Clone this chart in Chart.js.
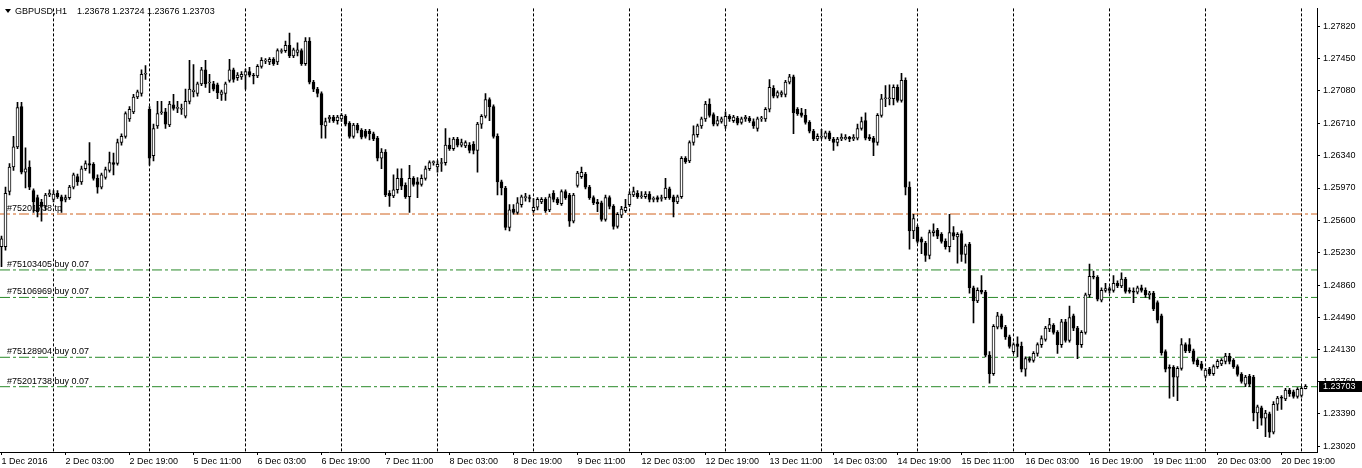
<!DOCTYPE html>
<html>
<head>
<meta charset="utf-8">
<title>GBPUSD,H1</title>
<script src="https://cdn.jsdelivr.net/npm/chart.js@4.4.0/dist/chart.umd.min.js"></script>
<style>
  html, body { margin: 0; padding: 0; background: #fff; }
  #chart { display: block; }
</style>
</head>
<body>
<canvas id="chart" width="1362" height="468"></canvas>
<script>
// GBPUSD H1 bars, 1 Dec 2016 11:00 .. 21 Dec 2016 01:00, one line per trading day
const opens = [
  1.2530,1.2530,1.2593,1.2621,1.2644,1.2690,1.2615,1.2621,1.2594,1.2586,1.2581,1.2576,1.2589,
  1.2584,1.2591,1.2587,1.2584,1.2586,1.2598,1.2610,1.2604,1.2619,1.2625,1.2624,1.2608,1.2598,1.2609,1.2617,1.2626,1.2625,1.2649,1.2656,1.2676,1.2684,1.2701,1.2705,1.2727,
  1.2687,1.2634,1.2668,1.2683,1.2684,1.2669,1.2692,1.2688,1.2687,1.2679,1.2696,1.2707,1.2705,1.2716,1.2732,1.2717,1.2716,1.2715,1.2704,1.2705,1.2720,1.2732,1.2723,1.2724,
  1.2726,1.2730,1.2726,1.2725,1.2736,1.2742,1.2741,1.2744,1.2741,1.2753,1.2754,1.2760,1.2748,1.2752,1.2754,1.2739,1.2765,1.2718,1.2710,1.2705,1.2668,1.2676,1.2678,1.2674,
  1.2676,1.2679,1.2671,1.2656,1.2669,1.2663,1.2662,1.2662,1.2659,1.2654,1.2631,1.2638,1.2591,1.2588,1.2595,1.2608,1.2600,1.2587,1.2608,1.2604,1.2601,1.2608,1.2619,1.2626,
  1.2621,1.2625,1.2626,1.2646,1.2642,1.2653,1.2646,1.2645,1.2646,1.2647,1.2640,1.2670,1.2679,1.2698,1.2690,1.2656,1.2604,1.2597,1.2552,1.2573,1.2569,1.2578,1.2586,1.2586,
  1.2571,1.2575,1.2581,1.2584,1.2572,1.2591,1.2584,1.2579,1.2593,1.2589,1.2559,1.2600,1.2610,1.2613,1.2598,1.2586,1.2581,1.2580,1.2561,1.2586,1.2576,1.2553,1.2566,1.2571,
  1.2578,1.2589,1.2591,1.2587,1.2587,1.2590,1.2584,1.2586,1.2585,1.2586,1.2596,1.2587,1.2581,1.2587,1.2631,1.2628,1.2649,1.2658,1.2668,1.2676,1.2693,1.2681,1.2670,1.2673,
  1.2668,1.2679,1.2674,1.2677,1.2672,1.2676,1.2677,1.2673,1.2665,1.2676,1.2676,1.2687,1.2711,1.2702,1.2704,1.2704,1.2718,1.2724,1.2687,1.2683,1.2680,1.2672,1.2662,1.2653,
  1.2655,1.2655,1.2660,1.2653,1.2649,1.2653,1.2653,1.2655,1.2653,1.2654,1.2665,1.2674,1.2655,1.2654,1.2649,1.2680,1.2699,1.2699,1.2699,1.2712,1.2697,1.2720,1.2598,1.2548,
  1.2552,1.2539,1.2534,1.2520,1.2546,1.2549,1.2544,1.2536,1.2530,1.2546,1.2541,1.2545,1.2521,1.2533,1.2483,1.2468,1.2480,1.2478,1.2406,1.2385,1.2438,1.2451,1.2438,1.2427,
  1.2410,1.2419,1.2416,1.2390,1.2402,1.2400,1.2408,1.2418,1.2424,1.2436,1.2440,1.2432,1.2418,1.2444,1.2423,1.2451,1.2437,1.2418,1.2432,1.2475,1.2496,1.2495,1.2469,1.2480,
  1.2482,1.2480,1.2488,1.2485,1.2493,1.2480,1.2479,1.2478,1.2483,1.2480,1.2475,1.2477,1.2466,1.2451,1.2410,1.2392,1.2392,1.2381,1.2391,1.2418,1.2418,1.2411,1.2400,1.2396,
  1.2382,1.2390,1.2385,1.2393,1.2396,1.2399,1.2405,1.2400,1.2393,1.2384,1.2373,1.2382,1.2381,1.2340,1.2346,1.2334,1.2339,1.2318,1.2350,1.2358,1.2356,1.2366,1.2364,1.2359,
  1.2360,1.23678
];
const highs = [
  1.2542,1.2598,1.2625,1.2656,1.2695,1.2695,1.2643,1.2628,1.2596,1.2589,1.2584,1.2591,1.2595,
  1.2594,1.2594,1.2589,1.2589,1.2600,1.2614,1.2613,1.2622,1.2628,1.2649,1.2626,1.2612,1.2614,1.2621,1.2638,1.2637,1.2653,1.2659,1.2684,1.2690,1.2704,1.2709,1.2732,1.2737,
  1.2690,1.2670,1.2696,1.2696,1.2688,1.2696,1.2704,1.2696,1.2693,1.2710,1.2743,1.2738,1.2718,1.2735,1.2743,1.2727,1.2719,1.2717,1.2709,1.2718,1.2744,1.2734,1.2729,1.2730,
  1.2733,1.2735,1.2728,1.2738,1.2746,1.2745,1.2746,1.2746,1.2756,1.2756,1.2765,1.2774,1.2757,1.2763,1.2756,1.2769,1.2769,1.2720,1.2712,1.2707,1.2677,1.2680,1.2680,1.2680,
  1.2682,1.2681,1.2673,1.2671,1.2671,1.2665,1.2664,1.2664,1.2661,1.2656,1.2642,1.2641,1.2594,1.2612,1.2619,1.2619,1.2603,1.2623,1.2610,1.2609,1.2612,1.2622,1.2628,1.2628,
  1.2628,1.2631,1.2665,1.2654,1.2655,1.2655,1.2653,1.2651,1.2649,1.2650,1.2672,1.2681,1.2705,1.2700,1.2692,1.2659,1.2606,1.2599,1.2578,1.2578,1.2586,1.2589,1.2591,1.2589,
  1.2585,1.2586,1.2586,1.2586,1.2590,1.2594,1.2586,1.2595,1.2595,1.2591,1.2591,1.2616,1.2621,1.2615,1.2600,1.2588,1.2584,1.2582,1.2589,1.2588,1.2578,1.2569,1.2576,1.2584,
  1.2593,1.2598,1.2594,1.2593,1.2593,1.2593,1.2587,1.2588,1.2589,1.2608,1.2598,1.2589,1.2589,1.2633,1.2633,1.2651,1.2668,1.2670,1.2678,1.2696,1.2699,1.2683,1.2679,1.2678,
  1.2684,1.2681,1.2680,1.2679,1.2678,1.2680,1.2679,1.2676,1.2678,1.2679,1.2689,1.2721,1.2714,1.2708,1.2708,1.2720,1.2727,1.2726,1.2689,1.2688,1.2687,1.2674,1.2664,1.2659,
  1.2664,1.2662,1.2662,1.2655,1.2655,1.2659,1.2658,1.2656,1.2658,1.2670,1.2678,1.2683,1.2658,1.2656,1.2682,1.2704,1.2714,1.2715,1.2715,1.2715,1.2728,1.2723,1.2604,1.2567,
  1.2554,1.2541,1.2536,1.2549,1.2556,1.2551,1.2546,1.2539,1.2567,1.2553,1.2546,1.2548,1.2533,1.2535,1.2485,1.2483,1.2497,1.2480,1.2410,1.2441,1.2455,1.2453,1.2440,1.2429,
  1.2420,1.2427,1.2421,1.2404,1.2404,1.2410,1.2420,1.2428,1.2439,1.2448,1.2442,1.2434,1.2447,1.2447,1.2462,1.2453,1.2439,1.2434,1.2477,1.2510,1.2502,1.2497,1.2483,1.2488,
  1.2484,1.2497,1.2491,1.2500,1.2495,1.2483,1.2483,1.2485,1.2486,1.2483,1.2479,1.2479,1.2468,1.2453,1.2412,1.2395,1.2394,1.2393,1.2425,1.2420,1.2425,1.2413,1.2402,1.2399,
  1.2391,1.2392,1.2395,1.2401,1.2402,1.2408,1.2408,1.2402,1.2395,1.2386,1.2383,1.2384,1.2383,1.2349,1.2348,1.2343,1.2341,1.2353,1.2359,1.2360,1.2368,1.2368,1.2366,1.2369,
  1.2370,1.23724
];
const lows = [
  1.2507,1.2526,1.2589,1.2617,1.2642,1.2613,1.2597,1.2595,1.2569,1.2564,1.2559,1.2572,1.2587,
  1.2581,1.2585,1.2569,1.2581,1.2584,1.2596,1.2600,1.2601,1.2617,1.2614,1.2606,1.2591,1.2596,1.2607,1.2615,1.2612,1.2623,1.2646,1.2654,1.2673,1.2682,1.2699,1.2702,1.2721,
  1.2623,1.2628,1.2665,1.2681,1.2665,1.2667,1.2686,1.2683,1.2681,1.2677,1.2693,1.2701,1.2702,1.2714,1.2712,1.2706,1.2708,1.2699,1.2697,1.2697,1.2718,1.2718,1.2720,1.2721,
  1.2710,1.2724,1.2716,1.2723,1.2734,1.2739,1.2738,1.2737,1.2738,1.2751,1.2752,1.2746,1.2746,1.2748,1.2737,1.2737,1.2716,1.2707,1.2701,1.2654,1.2654,1.2672,1.2672,1.2670,
  1.2673,1.2668,1.2654,1.2654,1.2660,1.2653,1.2654,1.2652,1.2651,1.2628,1.2619,1.2587,1.2576,1.2586,1.2591,1.2595,1.2585,1.2569,1.2599,1.2586,1.2599,1.2606,1.2617,1.2623,
  1.2615,1.2616,1.2623,1.2640,1.2640,1.2644,1.2644,1.2643,1.2637,1.2636,1.2615,1.2665,1.2677,1.2674,1.2654,1.2589,1.2589,1.2549,1.2548,1.2567,1.2567,1.2575,1.2582,1.2581,
  1.2569,1.2572,1.2579,1.2569,1.2570,1.2581,1.2578,1.2577,1.2584,1.2553,1.2557,1.2598,1.2608,1.2596,1.2584,1.2578,1.2570,1.2559,1.2559,1.2573,1.2550,1.2551,1.2563,1.2569,
  1.2576,1.2587,1.2585,1.2585,1.2585,1.2581,1.2581,1.2581,1.2582,1.2584,1.2584,1.2564,1.2579,1.2585,1.2625,1.2626,1.2646,1.2655,1.2665,1.2673,1.2678,1.2668,1.2668,1.2671,
  1.2665,1.2673,1.2672,1.2669,1.2670,1.2673,1.2672,1.2665,1.2662,1.2673,1.2673,1.2684,1.2700,1.2700,1.2701,1.2701,1.2716,1.2659,1.2680,1.2678,1.2670,1.2660,1.2651,1.2651,
  1.2653,1.2653,1.2651,1.2640,1.2645,1.2651,1.2652,1.2650,1.2651,1.2652,1.2663,1.2652,1.2651,1.2634,1.2646,1.2678,1.2690,1.2692,1.2692,1.2695,1.2695,1.2589,1.2527,1.2539,
  1.2534,1.2522,1.2513,1.2516,1.2542,1.2539,1.2534,1.2527,1.2524,1.2538,1.2511,1.2513,1.2511,1.2477,1.2443,1.2466,1.2476,1.2404,1.2374,1.2383,1.2436,1.2436,1.2424,1.2414,
  1.2408,1.2404,1.2387,1.2382,1.2398,1.2398,1.2405,1.2415,1.2422,1.2433,1.2430,1.2408,1.2415,1.2421,1.2421,1.2434,1.2402,1.2415,1.2430,1.2472,1.2493,1.2468,1.2467,1.2478,
  1.2477,1.2478,1.2483,1.2483,1.2477,1.2477,1.2466,1.2476,1.2478,1.2472,1.2470,1.2457,1.2443,1.2406,1.2387,1.2357,1.2359,1.2354,1.2389,1.2409,1.2409,1.2396,1.2393,1.2389,
  1.2380,1.2383,1.2383,1.2391,1.2394,1.2396,1.2396,1.2391,1.2382,1.2374,1.2370,1.2370,1.2331,1.2322,1.2326,1.2313,1.2312,1.2316,1.2343,1.2344,1.2354,1.2359,1.2357,1.2357,
  1.2358,1.23676
];
const closes = [
  1.2539,1.2591,1.2621,1.2644,1.2689,1.2615,1.2619,1.2598,1.2581,1.2570,1.2576,1.2589,1.2591,
  1.2590,1.2587,1.2582,1.2586,1.2598,1.2612,1.2604,1.2619,1.2625,1.2623,1.2608,1.2598,1.2612,1.2618,1.2626,1.2624,1.2649,1.2656,1.2682,1.2687,1.2701,1.2707,1.2727,1.2728,
  1.2631,1.2665,1.2682,1.2684,1.2670,1.2693,1.2688,1.2689,1.2688,1.2696,1.2710,1.2709,1.2716,1.2732,1.2716,1.2718,1.2710,1.2706,1.2707,1.2716,1.2732,1.2721,1.2726,1.2727,
  1.2730,1.2726,1.2725,1.2736,1.2743,1.2743,1.2744,1.2739,1.2754,1.2754,1.2760,1.2748,1.2755,1.2755,1.2739,1.2765,1.2718,1.2710,1.2705,1.2669,1.2673,1.2678,1.2674,1.2678,
  1.2680,1.2670,1.2656,1.2669,1.2663,1.2655,1.2656,1.2659,1.2653,1.2631,1.2638,1.2589,1.2588,1.2595,1.2608,1.2599,1.2587,1.2608,1.2601,1.2601,1.2608,1.2619,1.2626,1.2627,
  1.2624,1.2626,1.2646,1.2642,1.2653,1.2646,1.2649,1.2649,1.2640,1.2640,1.2670,1.2679,1.2698,1.2690,1.2656,1.2604,1.2597,1.2552,1.2572,1.2569,1.2580,1.2587,1.2587,1.2585,
  1.2575,1.2584,1.2584,1.2571,1.2587,1.2584,1.2580,1.2593,1.2586,1.2559,1.2589,1.2614,1.2615,1.2598,1.2586,1.2580,1.2579,1.2561,1.2586,1.2576,1.2553,1.2567,1.2573,1.2575,
  1.2590,1.2593,1.2587,1.2588,1.2590,1.2584,1.2585,1.2584,1.2586,1.2597,1.2586,1.2581,1.2587,1.2631,1.2627,1.2649,1.2658,1.2668,1.2676,1.2693,1.2680,1.2670,1.2674,1.2676,
  1.2679,1.2676,1.2678,1.2671,1.2676,1.2678,1.2674,1.2668,1.2676,1.2677,1.2687,1.2712,1.2702,1.2706,1.2706,1.2718,1.2724,1.2683,1.2682,1.2680,1.2672,1.2662,1.2653,1.2656,
  1.2656,1.2660,1.2653,1.2649,1.2653,1.2655,1.2655,1.2653,1.2655,1.2665,1.2673,1.2654,1.2653,1.2649,1.2680,1.2699,1.2700,1.2700,1.2712,1.2697,1.2720,1.2598,1.2548,1.2562,
  1.2536,1.2535,1.2520,1.2546,1.2548,1.2542,1.2536,1.2530,1.2546,1.2542,1.2544,1.2521,1.2531,1.2483,1.2468,1.2480,1.2478,1.2406,1.2385,1.2439,1.2451,1.2438,1.2427,1.2416,
  1.2418,1.2416,1.2390,1.2402,1.2400,1.2408,1.2418,1.2425,1.2437,1.2441,1.2432,1.2418,1.2444,1.2423,1.2449,1.2437,1.2418,1.2432,1.2475,1.2496,1.2495,1.2470,1.2480,1.2482,
  1.2480,1.2488,1.2485,1.2493,1.2479,1.2479,1.2478,1.2483,1.2480,1.2475,1.2477,1.2459,1.2446,1.2409,1.2390,1.2391,1.2381,1.2391,1.2418,1.2411,1.2411,1.2399,1.2395,1.2391,
  1.2389,1.2385,1.2393,1.2399,1.2400,1.2405,1.2399,1.2393,1.2384,1.2376,1.2381,1.2373,1.2340,1.2347,1.2334,1.2340,1.2318,1.2350,1.2357,1.2357,1.2366,1.2362,1.2359,1.2367,
  1.2368,1.23703
];

// time axis: one label every 16 bars, starting with bar 0
const timeLabels = [
  '1 Dec 2016', '2 Dec 03:00', '2 Dec 19:00', '5 Dec 11:00', '6 Dec 03:00', '6 Dec 19:00',
  '7 Dec 11:00', '8 Dec 03:00', '8 Dec 19:00', '9 Dec 11:00', '12 Dec 03:00', '12 Dec 19:00',
  '13 Dec 11:00', '14 Dec 03:00', '14 Dec 19:00', '15 Dec 11:00', '16 Dec 03:00', '16 Dec 19:00',
  '19 Dec 11:00', '20 Dec 03:00', '20 Dec 19:00'
];
const labelStep = 16;
// first bar of each day (00:00), where the dotted grid lines go
const dayStarts = [13, 37, 61, 85, 109, 133, 157, 181, 205, 229, 253, 277, 301, 325];

const priceTicks = [1.27820, 1.27450, 1.27080, 1.26710, 1.26340, 1.25970, 1.25600,
  1.25230, 1.24860, 1.24490, 1.24130, 1.23760, 1.23390, 1.23020];

// open orders drawn as horizontal levels
const orderLevels = [1.25673, 1.25034, 1.24720, 1.24036, 1.23700];
const orderNames = ['#75201738 tp', '#75103405 buy 0.07', '#75106969 buy 0.07',
  '#75128904 buy 0.07', '#75201738 buy 0.07'];

const symbol = 'GBPUSD,H1';

// ---- drawing ----
const FONT = '"Liberation Sans", Arial, sans-serif';
const X_MIN = -0.375, X_MAX = 328.875;   // 4 px per bar
const Y_MIN = 1.22954, Y_MAX = 1.28022;
const TP_COLOR = '#d0621e';
const BUY_COLOR = '#2a8a2a';

const labelByBar = new Map(timeLabels.map((t, k) => [k * labelStep, t]));
const daySet = new Set(dayStarts);
const xTickValues = [...labelByBar.keys(), ...dayStarts].sort((a, b) => a - b);

const wickData = highs.map((h, i) => ({ x: i, y: [lows[i], h] }));
const bodyData = opens.map((o, i) => ({ x: i, y: [o, closes[i]] }));

const orderSets = orderLevels.map((lv, k) => ({
  type: 'line',
  data: [{ x: X_MIN, y: lv }, { x: X_MAX, y: lv }],
  borderColor: orderNames[k].endsWith(' tp') ? TP_COLOR : BUY_COLOR,
  borderWidth: 1,
  borderDash: [10, 3, 3, 3],
  pointRadius: 0,
  fill: false,
  order: 2
}));

const overlay = {
  id: 'overlay',
  afterDraw(chart) {
    const { ctx, chartArea } = chart;
    const y = chart.scales.y;
    const last = closes.length - 1;
    ctx.save();
    ctx.font = '9px ' + FONT;
    ctx.fillStyle = '#000';
    ctx.textBaseline = 'alphabetic';

    // header
    ctx.beginPath();
    ctx.moveTo(5, 9); ctx.lineTo(11, 9); ctx.lineTo(8, 13);
    ctx.closePath();
    ctx.fill();
    ctx.fillText(symbol, 15, 14);
    ctx.fillText([opens[last], highs[last], lows[last], closes[last]].map(v => v.toFixed(5)).join(' '), 77, 14);

    // order labels
    orderLevels.forEach((lv, k) => {
      ctx.fillText(orderNames[k], 7, Math.round(y.getPixelForValue(lv)) - 3);
    });

    // last price box on the price axis
    const py = Math.round(y.getPixelForValue(closes[last]));
    ctx.fillRect(chartArea.right + 2, py - 5, chart.width - chartArea.right - 2, 11);
    ctx.fillStyle = '#fff';
    ctx.textBaseline = 'middle';
    ctx.fillText(closes[last].toFixed(5), chartArea.right + 6, py + 1);
    ctx.restore();
  }
};

new Chart(document.getElementById('chart'), {
  type: 'bar',
  data: {
    datasets: [
      {
        data: bodyData,
        backgroundColor: ctx => (closes[ctx.dataIndex] >= opens[ctx.dataIndex] ? '#fff' : '#000'),
        borderColor: '#000',
        borderWidth: 1,
        borderSkipped: false,
        grouped: false,
        barPercentage: 1,
        categoryPercentage: 1,
        maxBarThickness: 3,
        minBarLength: 1,
        order: 0
      },
      {
        data: wickData,
        backgroundColor: '#000',
        borderWidth: 0,
        grouped: false,
        barPercentage: 1,
        categoryPercentage: 1,
        maxBarThickness: 1,
        minBarLength: 1,
        order: 1
      },
      ...orderSets
    ]
  },
  options: {
    responsive: false,
    animation: false,
    events: [],
    devicePixelRatio: 1,
    layout: { padding: 0, autoPadding: false },
    plugins: { legend: { display: false }, tooltip: { enabled: false } },
    scales: {
      x: {
        type: 'linear',
        min: X_MIN,
        max: X_MAX,
        offset: false,
        afterBuildTicks: s => { s.ticks = xTickValues.map(v => ({ value: v })); },
        afterFit: s => { s.height = 16; },
        ticks: {
          autoSkip: false,
          maxRotation: 0,
          minRotation: 0,
          align: 'start',
          labelOffset: 0,
          padding: 1,
          color: '#000',
          font: { family: FONT, size: 9 },
          callback: v => labelByBar.get(v) || ''
        },
        grid: {
          offset: false,
          drawOnChartArea: true,
          drawTicks: true,
          tickLength: 3,
          lineWidth: 1,
          color: ctx => (ctx.tick && daySet.has(ctx.tick.value) ? '#000' : 'rgba(0,0,0,0)'),
          tickColor: ctx => (ctx.tick && daySet.has(ctx.tick.value) ? 'rgba(0,0,0,0)' : '#000')
        },
        border: { display: true, color: '#000', width: 1, dash: [3, 2] }
      },
      y: {
        type: 'linear',
        position: 'right',
        min: Y_MIN,
        max: Y_MAX,
        afterBuildTicks: s => { s.ticks = priceTicks.map(v => ({ value: v })); },
        afterFit: s => { s.width = 45; },
        ticks: {
          padding: 3,
          color: '#000',
          font: { family: FONT, size: 9 },
          callback: v => v.toFixed(5)
        },
        grid: { drawOnChartArea: false, drawTicks: true, tickLength: 3, color: '#000' },
        border: { display: true, color: '#000', width: 1 }
      }
    }
  },
  plugins: [overlay]
});
</script>
</body>
</html>
